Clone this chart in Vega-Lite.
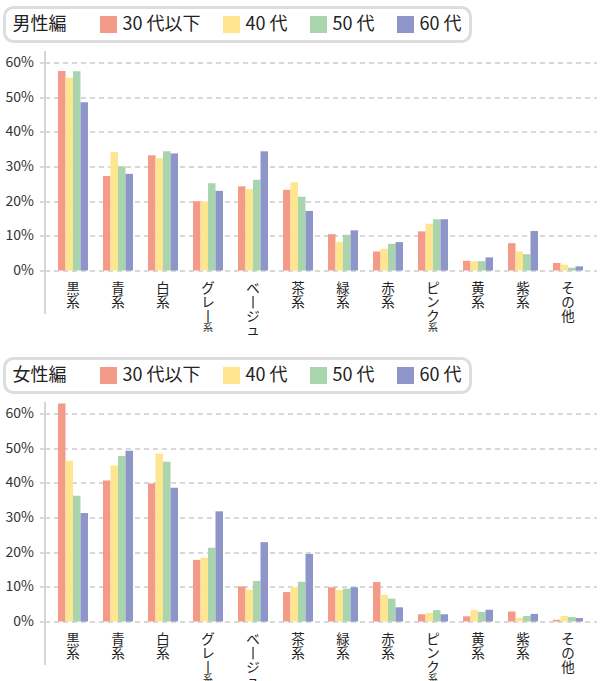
{
  "$schema": "https://vega.github.io/schema/vega-lite/v6.json",
  "autosize": {"type": "pad"},
  "padding": {"left": 2.5, "top": 5.5, "right": 4, "bottom": 0},
  "background": "white",
  "bounds": "flush",
  "spacing": 88,
  "config": {
    "font": "Noto Sans CJK JP",
    "view": {"stroke": null}
  },
  "resolve": {"scale": {"color": "independent"}, "legend": {"color": "independent"}},
  "datasets": {
    "men": [
      {"cat": "黒系", "age": "30 代以下", "v": 57.6}, {"cat": "黒系", "age": "40 代", "v": 55.6}, {"cat": "黒系", "age": "50 代", "v": 57.5}, {"cat": "黒系", "age": "60 代", "v": 48.6},
      {"cat": "青系", "age": "30 代以下", "v": 27.3}, {"cat": "青系", "age": "40 代", "v": 34.2}, {"cat": "青系", "age": "50 代", "v": 30.1}, {"cat": "青系", "age": "60 代", "v": 27.9},
      {"cat": "白系", "age": "30 代以下", "v": 33.3}, {"cat": "白系", "age": "40 代", "v": 32.4}, {"cat": "白系", "age": "50 代", "v": 34.4}, {"cat": "白系", "age": "60 代", "v": 33.8},
      {"cat": "グレー系", "age": "30 代以下", "v": 20.0}, {"cat": "グレー系", "age": "40 代", "v": 19.9}, {"cat": "グレー系", "age": "50 代", "v": 25.2}, {"cat": "グレー系", "age": "60 代", "v": 23.0},
      {"cat": "ベージュ", "age": "30 代以下", "v": 24.3}, {"cat": "ベージュ", "age": "40 代", "v": 23.5}, {"cat": "ベージュ", "age": "50 代", "v": 26.2}, {"cat": "ベージュ", "age": "60 代", "v": 34.4},
      {"cat": "茶系", "age": "30 代以下", "v": 23.3}, {"cat": "茶系", "age": "40 代", "v": 25.5}, {"cat": "茶系", "age": "50 代", "v": 21.3}, {"cat": "茶系", "age": "60 代", "v": 17.2},
      {"cat": "緑系", "age": "30 代以下", "v": 10.5}, {"cat": "緑系", "age": "40 代", "v": 8.3}, {"cat": "緑系", "age": "50 代", "v": 10.3}, {"cat": "緑系", "age": "60 代", "v": 11.6},
      {"cat": "赤系", "age": "30 代以下", "v": 5.5}, {"cat": "赤系", "age": "40 代", "v": 6.3}, {"cat": "赤系", "age": "50 代", "v": 7.7}, {"cat": "赤系", "age": "60 代", "v": 8.2},
      {"cat": "ピンク系", "age": "30 代以下", "v": 11.3}, {"cat": "ピンク系", "age": "40 代", "v": 13.5}, {"cat": "ピンク系", "age": "50 代", "v": 14.8}, {"cat": "ピンク系", "age": "60 代", "v": 14.8},
      {"cat": "黄系", "age": "30 代以下", "v": 2.8}, {"cat": "黄系", "age": "40 代", "v": 2.7}, {"cat": "黄系", "age": "50 代", "v": 2.7}, {"cat": "黄系", "age": "60 代", "v": 3.8},
      {"cat": "紫系", "age": "30 代以下", "v": 7.9}, {"cat": "紫系", "age": "40 代", "v": 5.5}, {"cat": "紫系", "age": "50 代", "v": 4.7}, {"cat": "紫系", "age": "60 代", "v": 11.4},
      {"cat": "その他", "age": "30 代以下", "v": 2.2}, {"cat": "その他", "age": "40 代", "v": 1.7}, {"cat": "その他", "age": "50 代", "v": 0.8}, {"cat": "その他", "age": "60 代", "v": 1.2}
    ],
    "women": [
      {"cat": "黒系", "age": "30 代以下", "v": 62.9}, {"cat": "黒系", "age": "40 代", "v": 46.4}, {"cat": "黒系", "age": "50 代", "v": 36.3}, {"cat": "黒系", "age": "60 代", "v": 31.3},
      {"cat": "青系", "age": "30 代以下", "v": 40.7}, {"cat": "青系", "age": "40 代", "v": 45.0}, {"cat": "青系", "age": "50 代", "v": 47.8}, {"cat": "青系", "age": "60 代", "v": 49.3},
      {"cat": "白系", "age": "30 代以下", "v": 39.8}, {"cat": "白系", "age": "40 代", "v": 48.5}, {"cat": "白系", "age": "50 代", "v": 46.1}, {"cat": "白系", "age": "60 代", "v": 38.6},
      {"cat": "グレー系", "age": "30 代以下", "v": 17.8}, {"cat": "グレー系", "age": "40 代", "v": 18.4}, {"cat": "グレー系", "age": "50 代", "v": 21.3}, {"cat": "グレー系", "age": "60 代", "v": 31.8},
      {"cat": "ベージュ", "age": "30 代以下", "v": 10.1}, {"cat": "ベージュ", "age": "40 代", "v": 9.2}, {"cat": "ベージュ", "age": "50 代", "v": 11.7}, {"cat": "ベージュ", "age": "60 代", "v": 22.9},
      {"cat": "茶系", "age": "30 代以下", "v": 8.5}, {"cat": "茶系", "age": "40 代", "v": 9.9}, {"cat": "茶系", "age": "50 代", "v": 11.5}, {"cat": "茶系", "age": "60 代", "v": 19.5},
      {"cat": "緑系", "age": "30 代以下", "v": 9.9}, {"cat": "緑系", "age": "40 代", "v": 9.1}, {"cat": "緑系", "age": "50 代", "v": 9.5}, {"cat": "緑系", "age": "60 代", "v": 9.9},
      {"cat": "赤系", "age": "30 代以下", "v": 11.4}, {"cat": "赤系", "age": "40 代", "v": 7.7}, {"cat": "赤系", "age": "50 代", "v": 6.6}, {"cat": "赤系", "age": "60 代", "v": 4.1},
      {"cat": "ピンク系", "age": "30 代以下", "v": 2.1}, {"cat": "ピンク系", "age": "40 代", "v": 2.5}, {"cat": "ピンク系", "age": "50 代", "v": 3.3}, {"cat": "ピンク系", "age": "60 代", "v": 2.1},
      {"cat": "黄系", "age": "30 代以下", "v": 1.5}, {"cat": "黄系", "age": "40 代", "v": 3.3}, {"cat": "黄系", "age": "50 代", "v": 2.8}, {"cat": "黄系", "age": "60 代", "v": 3.4},
      {"cat": "紫系", "age": "30 代以下", "v": 2.9}, {"cat": "紫系", "age": "40 代", "v": 1.1}, {"cat": "紫系", "age": "50 代", "v": 1.6}, {"cat": "紫系", "age": "60 代", "v": 2.2},
      {"cat": "その他", "age": "30 代以下", "v": 0.5}, {"cat": "その他", "age": "40 代", "v": 1.6}, {"cat": "その他", "age": "50 代", "v": 1.3}, {"cat": "その他", "age": "60 代", "v": 1.0}
    ],
    "labels": [
      {"cat": "黒系", "lines": ["黒", "系"], "suffix": ""},
      {"cat": "青系", "lines": ["青", "系"], "suffix": ""},
      {"cat": "白系", "lines": ["白", "系"], "suffix": ""},
      {"cat": "グレー系", "lines": ["グ", "レ", "丨"], "suffix": "系"},
      {"cat": "ベージュ", "lines": ["ベ", "丨", "ジ", "ュ"], "suffix": ""},
      {"cat": "茶系", "lines": ["茶", "系"], "suffix": ""},
      {"cat": "緑系", "lines": ["緑", "系"], "suffix": ""},
      {"cat": "赤系", "lines": ["赤", "系"], "suffix": ""},
      {"cat": "ピンク系", "lines": ["ピ", "ン", "ク"], "suffix": "系"},
      {"cat": "黄系", "lines": ["黄", "系"], "suffix": ""},
      {"cat": "紫系", "lines": ["紫", "系"], "suffix": ""},
      {"cat": "その他", "lines": ["そ", "の", "他"], "suffix": ""}
    ]
  },
  "vconcat": [
    {
      "width": 552,
      "height": 263,
      "layer": [
        {
          "data": {"name": "men"},
          "mark": {"type": "bar"},
          "encoding": {
            "x": {"field": "cat", "type": "nominal", "sort": null, "axis": null,
                  "scale": {"domain": ["黒系", "青系", "白系", "グレー系", "ベージュ", "茶系", "緑系", "赤系", "ピンク系", "黄系", "紫系", "その他"], "paddingInner": 0, "paddingOuter": 0.133}},
            "xOffset": {"field": "age", "type": "nominal", "scale": {"domain": ["30 代以下", "40 代", "50 代", "60 代"], "paddingInner": 0, "paddingOuter": 1.214}},
            "y": {"field": "v", "type": "quantitative",
                  "scale": {"domain": [-12.4, 63.5], "nice": false, "zero": false},
                  "axis": {"values": [0, 10, 20, 30, 40, 50, 60], "labelExpr": "datum.value + '%'", "title": null,
                           "grid": true, "gridDash": [5, 4], "gridColor": "#cccccc", "gridWidth": 1.5,
                           "ticks": true, "tickDash": [5, 4], "tickColor": "#cccccc", "tickWidth": 1.5, "tickSize": 9,
                           "labelPadding": 2, "labelFontSize": 14, "labelColor": "#333333", "labelFont": "Noto Sans CJK JP",
                           "domainColor": "#d6d6d6", "domainWidth": 2}},
            "color": {"field": "age", "type": "nominal",
                      "scale": {"domain": ["30 代以下", "40 代", "50 代", "60 代"], "range": ["#F39A88", "#FEE58F", "#A8D4AE", "#8E95C8"]},
                      "legend": {"title": "男性編", "orient": "none", "legendX": -40, "legendY": -43, "direction": "horizontal",
                                 "titleOrient": "left", "titleFontSize": 18, "titleFontWeight": "normal", "titleColor": "#222222", "titlePadding": 33,
                                 "titleFont": "Noto Sans CJK JP", "titleBaseline": "middle",
                                 "labelFontSize": 18, "labelColor": "#222222", "labelFont": "Noto Sans CJK JP", "labelOffset": 5,
                                 "symbolType": "square", "symbolSize": 289, "symbolStrokeWidth": 0, "columnPadding": 21,
                                 "padding": 8, "strokeColor": "#dddddd", "fillColor": "white", "cornerRadius": 9,
                                 "encode": {"legend": {"update": {"strokeWidth": {"value": 3}}}}}}
          }
        },
        {
          "data": {"name": "labels"},
          "mark": {"type": "text", "baseline": "top", "align": "center", "fontSize": 13.5, "lineHeight": 14, "color": "#222222"},
          "encoding": {
            "x": {"field": "cat", "type": "nominal", "sort": null},
            "y": {"datum": -3.4},
            "text": {"field": "lines"}
          }
        },
        {
          "data": {"name": "labels"},
          "transform": [{"filter": "datum.suffix != ''"}],
          "mark": {"type": "text", "baseline": "top", "align": "center", "fontSize": 10, "color": "#222222"},
          "encoding": {
            "x": {"field": "cat", "type": "nominal", "sort": null},
            "y": {"datum": -15.0},
            "text": {"field": "suffix"}
          }
        },
        {
          "mark": {"type": "rule", "color": "#cccccc", "strokeWidth": 2.5},
          "encoding": {"y": {"datum": 0}}
        }
      ]
    },
    {
      "width": 552,
      "height": 263,
      "layer": [
        {
          "data": {"name": "women"},
          "mark": {"type": "bar"},
          "encoding": {
            "x": {"field": "cat", "type": "nominal", "sort": null, "axis": null,
                  "scale": {"domain": ["黒系", "青系", "白系", "グレー系", "ベージュ", "茶系", "緑系", "赤系", "ピンク系", "黄系", "紫系", "その他"], "paddingInner": 0, "paddingOuter": 0.133}},
            "xOffset": {"field": "age", "type": "nominal", "scale": {"domain": ["30 代以下", "40 代", "50 代", "60 代"], "paddingInner": 0, "paddingOuter": 1.214}},
            "y": {"field": "v", "type": "quantitative",
                  "scale": {"domain": [-12.4, 63.5], "nice": false, "zero": false},
                  "axis": {"values": [0, 10, 20, 30, 40, 50, 60], "labelExpr": "datum.value + '%'", "title": null,
                           "grid": true, "gridDash": [5, 4], "gridColor": "#cccccc", "gridWidth": 1.5,
                           "ticks": true, "tickDash": [5, 4], "tickColor": "#cccccc", "tickWidth": 1.5, "tickSize": 9,
                           "labelPadding": 2, "labelFontSize": 14, "labelColor": "#333333", "labelFont": "Noto Sans CJK JP",
                           "domainColor": "#d6d6d6", "domainWidth": 2}},
            "color": {"field": "age", "type": "nominal",
                      "scale": {"domain": ["30 代以下", "40 代", "50 代", "60 代"], "range": ["#F39A88", "#FEE58F", "#A8D4AE", "#8E95C8"]},
                      "legend": {"title": "女性編", "orient": "none", "legendX": -40, "legendY": -43, "direction": "horizontal",
                                 "titleOrient": "left", "titleFontSize": 18, "titleFontWeight": "normal", "titleColor": "#222222", "titlePadding": 33,
                                 "titleFont": "Noto Sans CJK JP", "titleBaseline": "middle",
                                 "labelFontSize": 18, "labelColor": "#222222", "labelFont": "Noto Sans CJK JP", "labelOffset": 5,
                                 "symbolType": "square", "symbolSize": 289, "symbolStrokeWidth": 0, "columnPadding": 21,
                                 "padding": 8, "strokeColor": "#dddddd", "fillColor": "white", "cornerRadius": 9,
                                 "encode": {"legend": {"update": {"strokeWidth": {"value": 3}}}}}}
          }
        },
        {
          "data": {"name": "labels"},
          "mark": {"type": "text", "baseline": "top", "align": "center", "fontSize": 13.5, "lineHeight": 14, "color": "#222222"},
          "encoding": {
            "x": {"field": "cat", "type": "nominal", "sort": null},
            "y": {"datum": -3.4},
            "text": {"field": "lines"}
          }
        },
        {
          "data": {"name": "labels"},
          "transform": [{"filter": "datum.suffix != ''"}],
          "mark": {"type": "text", "baseline": "top", "align": "center", "fontSize": 10, "color": "#222222"},
          "encoding": {
            "x": {"field": "cat", "type": "nominal", "sort": null},
            "y": {"datum": -15.0},
            "text": {"field": "suffix"}
          }
        },
        {
          "mark": {"type": "rule", "color": "#cccccc", "strokeWidth": 2.5},
          "encoding": {"y": {"datum": 0}}
        }
      ]
    }
  ]
}
